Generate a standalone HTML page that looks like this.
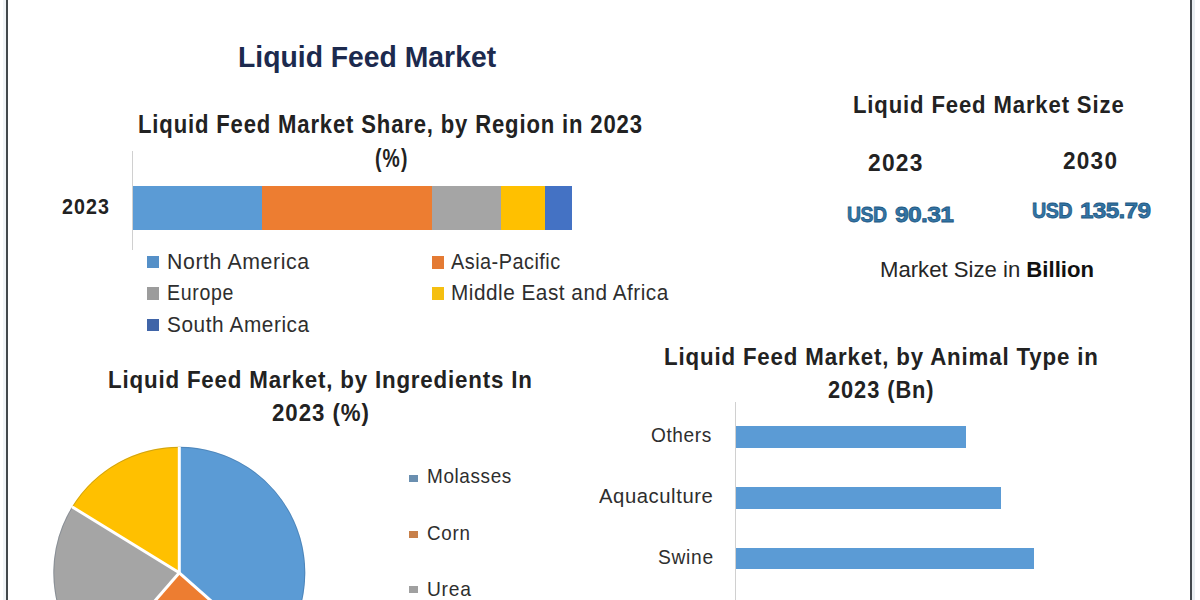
<!DOCTYPE html>
<html><head><meta charset="utf-8">
<style>
html,body{margin:0;padding:0;background:#fff;}
body{width:1200px;height:600px;position:relative;overflow:hidden;font-family:"Liberation Sans",sans-serif;}
.t{position:absolute;white-space:nowrap;line-height:1;transform-origin:0 0;}
.abs{position:absolute;left:0;top:0;}
.r{position:absolute;}
</style></head><body>
<div class="r" style="left:3px;top:0;width:3px;height:600px;background:#f0f4f7"></div>
<div class="r" style="left:6px;top:0;width:2px;height:600px;background:#42484c"></div>
<div class="r" style="left:1190px;top:0;width:2px;height:600px;background:#42484c"></div>
<div class="r" style="left:1192px;top:0;width:3px;height:600px;background:#e9eef1"></div>
<!-- region bar -->
<div class="r" style="left:132px;top:151px;width:1px;height:99px;background:#d0d0d0"></div>
<div class="r" style="left:133px;top:186px;width:129px;height:44px;background:#5b9bd5"></div>
<div class="r" style="left:262px;top:186px;width:170px;height:44px;background:#ed7d31"></div>
<div class="r" style="left:432px;top:186px;width:69px;height:44px;background:#a5a5a5"></div>
<div class="r" style="left:501px;top:186px;width:44px;height:44px;background:#ffc000"></div>
<div class="r" style="left:545px;top:186px;width:27px;height:44px;background:#4472c4"></div>
<!-- region legend squares -->
<div class="r" style="left:147px;top:255.5px;width:11.5px;height:12.5px;background:#5590c8"></div>
<div class="r" style="left:147px;top:287px;width:11.5px;height:12.5px;background:#9c9c9c"></div>
<div class="r" style="left:147px;top:319px;width:11.5px;height:12px;background:#4065a8"></div>
<div class="r" style="left:431.5px;top:256px;width:12.5px;height:12.5px;background:#e47a33"></div>
<div class="r" style="left:431.5px;top:286.5px;width:12.5px;height:13px;background:#f5bf10"></div>
<!-- animal bars -->
<div class="r" style="left:735px;top:402px;width:1px;height:198px;background:#d0d0d0"></div>
<div class="r" style="left:736px;top:426px;width:230px;height:22px;background:#5b9bd5"></div>
<div class="r" style="left:736px;top:487px;width:265px;height:22px;background:#5b9bd5"></div>
<div class="r" style="left:736px;top:548px;width:298px;height:21px;background:#5b9bd5"></div>
<!-- pie legend -->
<div class="r" style="left:409px;top:475px;width:9px;height:7px;background:#6a8fb0"></div>
<div class="r" style="left:409px;top:531px;width:9px;height:7px;background:#c8804a"></div>
<div class="r" style="left:409px;top:586px;width:9px;height:7px;background:#a0a0a0"></div>
<svg class="abs" width="1200" height="600" viewBox="0 0 1200 600"><path d="M179.3,572.8 L179.30,446.80 A126,126 0 0 1 273.67,656.29 Z" fill="#5b9bd5"/><path d="M179.3,572.8 L273.67,656.29 A126,126 0 0 1 96.64,667.89 Z" fill="#ed7d31"/><path d="M179.3,572.8 L96.64,667.89 A126,126 0 0 1 71.98,506.78 Z" fill="#a5a5a5"/><path d="M179.3,572.8 L71.98,506.78 A126,126 0 0 1 179.30,446.80 Z" fill="#ffc000"/><circle cx="179.3" cy="572.8" r="125.5" fill="none" stroke="rgba(30,60,90,0.22)" stroke-width="1"/><line x1="179.3" y1="572.8" x2="179.30" y2="446.80" stroke="#fff" stroke-width="3"/><line x1="179.3" y1="572.8" x2="273.67" y2="656.29" stroke="#fff" stroke-width="3"/><line x1="179.3" y1="572.8" x2="96.64" y2="667.89" stroke="#fff" stroke-width="3"/><line x1="179.3" y1="572.8" x2="71.98" y2="506.78" stroke="#fff" stroke-width="3"/></svg>
<div class="t" style="left:237.70px;top:41.73px;font-size:30.09px;letter-spacing:0.000px;font-weight:700;color:#1c2a4e;transform:scaleX(0.9416);">Liquid Feed Market</div><div class="t" style="left:138.00px;top:112.11px;font-size:25.15px;letter-spacing:0.961px;font-weight:700;color:#222;transform:scaleX(0.8779);">Liquid Feed Market Share, by Region in 2023</div><div class="t" style="left:374.50px;top:146.11px;font-size:25.15px;letter-spacing:1.477px;font-weight:700;color:#222;transform:scaleX(0.7701);">(%)</div><div class="t" style="left:61.70px;top:195.65px;font-size:22.38px;letter-spacing:1.254px;font-weight:700;color:#222;transform:scaleX(0.8779);">2023</div><div class="t" style="left:166.50px;top:250.65px;font-size:21.21px;letter-spacing:0.591px;font-weight:400;color:#2e2e2e;transform:scaleX(1.0046);">North America</div><div class="t" style="left:166.50px;top:281.85px;font-size:21.21px;letter-spacing:0.721px;font-weight:400;color:#2e2e2e;transform:scaleX(0.9223);">Europe</div><div class="t" style="left:166.50px;top:314.35px;font-size:21.21px;letter-spacing:0.606px;font-weight:400;color:#2e2e2e;transform:scaleX(0.9792);">South America</div><div class="t" style="left:451.40px;top:250.65px;font-size:21.21px;letter-spacing:0.531px;font-weight:400;color:#2e2e2e;transform:scaleX(0.9363);">Asia-Pacific</div><div class="t" style="left:451.40px;top:281.65px;font-size:21.21px;letter-spacing:0.530px;font-weight:400;color:#2e2e2e;transform:scaleX(0.9783);">Middle East and Africa</div><div class="t" style="left:853.30px;top:92.98px;font-size:24.71px;letter-spacing:0.965px;font-weight:700;color:#222;transform:scaleX(0.8944);">Liquid Feed Market Size</div><div class="t" style="left:867.50px;top:151.28px;font-size:24.71px;letter-spacing:1.380px;font-weight:700;color:#222;transform:scaleX(0.9215);">2023</div><div class="t" style="left:1063.00px;top:149.38px;font-size:24.71px;letter-spacing:1.380px;font-weight:700;color:#222;transform:scaleX(0.9131);">2030</div><div class="t" style="left:108.30px;top:368.25px;font-size:24.27px;letter-spacing:0.896px;font-weight:700;color:#222;transform:scaleX(0.9196);">Liquid Feed Market, by Ingredients In</div><div class="t" style="left:272.00px;top:401.05px;font-size:24.27px;letter-spacing:1.059px;font-weight:700;color:#222;transform:scaleX(0.9158);">2023 (%)</div><div class="t" style="left:664.00px;top:344.98px;font-size:24.13px;letter-spacing:0.918px;font-weight:700;color:#222;transform:scaleX(0.9231);">Liquid Feed Market, by Animal Type in</div><div class="t" style="left:828.00px;top:378.38px;font-size:24.13px;letter-spacing:1.028px;font-weight:700;color:#222;transform:scaleX(0.9040);">2023 (Bn)</div><div class="t" style="left:651.00px;top:425.24px;font-size:20.51px;letter-spacing:0.647px;font-weight:400;color:#2e2e2e;transform:scaleX(0.9315);">Others</div><div class="t" style="left:598.90px;top:486.24px;font-size:20.51px;letter-spacing:0.576px;font-weight:400;color:#2e2e2e;transform:scaleX(0.9882);">Aquaculture</div><div class="t" style="left:657.50px;top:547.44px;font-size:20.51px;letter-spacing:0.734px;font-weight:400;color:#2e2e2e;transform:scaleX(0.9372);">Swine</div><div class="t" style="left:427.00px;top:465.98px;font-size:20.93px;letter-spacing:0.667px;font-weight:400;color:#2e2e2e;transform:scaleX(0.9056);">Molasses</div><div class="t" style="left:427.00px;top:523.18px;font-size:20.93px;letter-spacing:0.798px;font-weight:400;color:#2e2e2e;transform:scaleX(0.8978);">Corn</div><div class="t" style="left:427.00px;top:578.78px;font-size:20.93px;letter-spacing:0.798px;font-weight:400;color:#2e2e2e;transform:scaleX(0.9187);">Urea</div><div class="t" style="left:879.50px;top:259.05px;font-size:21.21px;color:#262626;transform:scaleX(1.0437);">Market Size in <b style="color:#111">Billion</b></div><div class="t" style="left:846.85px;top:203.90px;font-size:22.09px;font-weight:700;letter-spacing:-0.6px;color:#3474a4;-webkit-text-stroke:0.8px #1f5a84;transform:scaleX(0.8785);">USD</div><div class="t" style="left:894.95px;top:203.90px;font-size:22.09px;font-weight:700;letter-spacing:-0.6px;color:#3474a4;-webkit-text-stroke:0.8px #1f5a84;transform:scaleX(1.1142);">90.31</div><div class="t" style="left:1031.86px;top:199.90px;font-size:22.09px;font-weight:700;letter-spacing:-0.6px;color:#3474a4;-webkit-text-stroke:0.8px #1f5a84;transform:scaleX(0.8937);">USD</div><div class="t" style="left:1080.14px;top:199.90px;font-size:22.09px;font-weight:700;letter-spacing:-0.6px;color:#3474a4;-webkit-text-stroke:0.8px #1f5a84;transform:scaleX(1.0992);">135.79</div>
</body></html>
